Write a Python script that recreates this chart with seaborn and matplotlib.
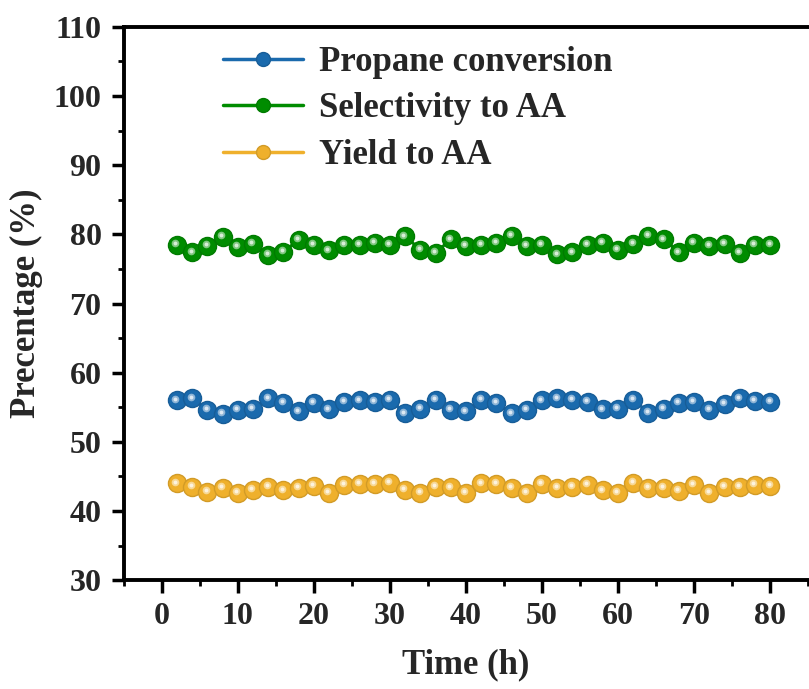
import numpy as np
import pandas as pd
import seaborn as sns
import matplotlib
matplotlib.use("Agg")
import matplotlib.pyplot as plt
from matplotlib.lines import Line2D
from matplotlib.ticker import MultipleLocator
from matplotlib.transforms import offset_copy
from matplotlib.colors import to_rgb

# ---- data -------------------------------------------------------------
time_h = list(range(2, 81, 2))

propane_conversion = [
    56.0, 56.3, 54.6, 54.0, 54.6, 54.8, 56.3, 55.6, 54.4, 55.6,
    54.7, 55.8, 56.0, 55.8, 56.1, 54.1, 54.8, 56.1, 54.6, 54.4,
    56.1, 55.6, 54.1, 54.6, 56.0, 56.3, 56.1, 55.8, 54.7, 54.8,
    56.1, 54.2, 54.8, 55.6, 55.8, 54.6, 55.5, 56.3, 55.9, 55.8,
]

selectivity_aa = [
    78.5, 77.4, 78.3, 79.6, 78.2, 78.6, 77.0, 77.5, 79.2, 78.5,
    77.7, 78.5, 78.5, 78.8, 78.5, 79.7, 77.8, 77.3, 79.3, 78.3,
    78.5, 78.8, 79.8, 78.3, 78.5, 77.1, 77.4, 78.5, 78.8, 77.8,
    78.6, 79.8, 79.3, 77.4, 78.8, 78.3, 78.6, 77.3, 78.5, 78.5,
]

yield_aa = [
    44.0, 43.5, 42.8, 43.3, 42.6, 43.1, 43.5, 43.0, 43.3, 43.6,
    42.6, 43.8, 43.9, 43.9, 44.1, 43.1, 42.6, 43.5, 43.4, 42.6,
    44.0, 43.9, 43.3, 42.6, 43.9, 43.3, 43.5, 43.8, 43.0, 42.6,
    44.1, 43.3, 43.3, 42.9, 43.8, 42.6, 43.5, 43.5, 43.8, 43.6,
]

series_names = ["Propane conversion", "Selectivity to AA", "Yield to AA"]
series_colors = ["#1a6aad", "#008c00", "#efb02c"]

x_ticks = list(range(0, 81, 10))
y_ticks = list(range(30, 111, 10))

# ---- style -------------------------------------------------------------
sns.set_theme(style="ticks")
plt.rcParams["font.family"] = ["Liberation Serif", "DejaVu Serif"]
plt.rcParams["font.weight"] = "bold"
plt.rcParams["axes.labelweight"] = "bold"

df = pd.DataFrame({
    "Time (h)": time_h * 3,
    "value": propane_conversion + selectivity_aa + yield_aa,
    "series": [n for n in series_names for _ in time_h],
})

fig = plt.figure(figsize=(8.09, 6.89), dpi=100)
ax = fig.add_axes([0.153, 0.158, 0.846, 0.803])

palette = dict(zip(series_names, series_colors))
sns.lineplot(
    data=df, x="Time (h)", y="value", hue="series", hue_order=series_names,
    palette=palette, marker="o", markersize=13, linewidth=2.2,
    legend=False, ax=ax,
)


def shade(color, f):
    r, g, b = to_rgb(color)
    return (r * f, g * f, b * f)


def tint(color, f):
    r, g, b = to_rgb(color)
    return (r + (1 - r) * f, g + (1 - g) * f, b + (1 - b) * f)


for line, c in zip(ax.lines, series_colors):
    line.set_markeredgecolor(shade(c, 0.88))
    line.set_markeredgewidth(1.0)

# glossy highlight on each ball marker
hl_trans = offset_copy(ax.transData, fig=fig, x=-1.2, y=1.2, units="points")
for vals, c in zip([propane_conversion, selectivity_aa, yield_aa], series_colors):
    ax.plot(time_h, vals, linestyle="none", marker="o", markersize=5.5,
            color=tint(c, 0.5), markeredgewidth=0, transform=hl_trans)
    ax.plot(time_h, vals, linestyle="none", marker="o", markersize=2.8,
            color=tint(c, 0.85), markeredgewidth=0, transform=hl_trans)

# ---- axes --------------------------------------------------------------
ax.set_xlim(-5, 85)
ax.set_ylim(30, 110)
ax.set_xticks(x_ticks)
ax.set_yticks(y_ticks)
ax.xaxis.set_minor_locator(MultipleLocator(5))
ax.yaxis.set_minor_locator(MultipleLocator(5))
ax.tick_params(axis="both", which="major", direction="out", length=9,
               width=2.5, labelsize=23, pad=7, color="black")
ax.tick_params(axis="both", which="minor", direction="out", length=4,
               width=2.0, color="black")
for lab in ax.get_xticklabels() + ax.get_yticklabels():
    lab.set_fontweight("bold")

for side in ["left", "bottom", "top"]:
    ax.spines[side].set_linewidth(2.8)
    ax.spines[side].set_color("black")
ax.spines["right"].set_visible(False)

ax.set_xlabel("Time (h)", fontsize=25, fontweight="bold", labelpad=12)
ax.set_ylabel("Precentage (%)", fontsize=25, fontweight="bold", labelpad=8)

handles = [
    Line2D([], [], color=c, marker="o", markersize=10, linewidth=2.5,
           markeredgecolor=shade(c, 0.88))
    for c in series_colors
]
ax.legend(handles, series_names, loc="upper left",
          bbox_to_anchor=(0.125, 0.99), frameon=False,
          prop={"family": "Liberation Serif", "weight": "bold", "size": 25},
          handlelength=2.3, handletextpad=0.45, labelspacing=0.38,
          borderaxespad=0.0)

fig.savefig("out.png", dpi=100)
